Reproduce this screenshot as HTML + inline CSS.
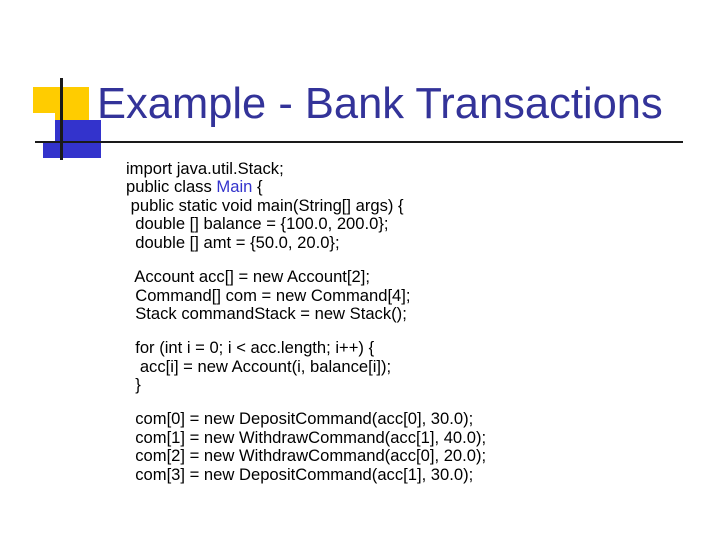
<!DOCTYPE html>
<html><head><style>
body{margin:0;width:720px;height:540px;background:#fff;position:relative;overflow:hidden;font-family:"Liberation Sans",sans-serif}
.a{position:absolute}
.l{position:absolute;left:126px;font-size:16.6px;line-height:18px;white-space:pre;color:#000}
</style></head><body>
<div class="a" style="left:33px;top:87px;width:56px;height:26px;background:#ffcc00"></div>
<div class="a" style="left:55px;top:113px;width:34px;height:7px;background:#ffcc00"></div>
<div class="a" style="left:55px;top:120px;width:46px;height:38px;background:#3333cc"></div>
<div class="a" style="left:43px;top:143px;width:12px;height:15px;background:#3333cc"></div>
<div class="a" style="left:60px;top:78px;width:3px;height:82px;background:#1a1a1a"></div>
<div class="a" style="left:35px;top:141px;width:648px;height:2px;background:#1a1a1a"></div>
<div class="a" style="left:97px;top:78px;font-size:43.5px;line-height:52px;color:#333399;white-space:nowrap">Example - Bank Transactions</div>
<div class="l" style="top:160px">import java.util.Stack;</div>
<div class="l" style="top:178px">public class <span style="color:#3333cc">Main</span> {</div>
<div class="l" style="top:197px"> public static void main(String[] args) {</div>
<div class="l" style="top:215px">  double [] balance = {100.0, 200.0};</div>
<div class="l" style="top:234px">  double [] amt = {50.0, 20.0};</div>
<div class="l" style="top:268px">  Account acc[] = new Account[2];</div>
<div class="l" style="top:287px">  Command[] com = new Command[4];</div>
<div class="l" style="top:305px">  Stack commandStack = new Stack();</div>
<div class="l" style="top:339px">  for (int i = 0; i &lt; acc.length; i++) {</div>
<div class="l" style="top:358px">   acc[i] = new Account(i, balance[i]);</div>
<div class="l" style="top:376px">  }</div>
<div class="l" style="top:410px">  com[0] = new DepositCommand(acc[0], 30.0);</div>
<div class="l" style="top:429px">  com[1] = new WithdrawCommand(acc[1], 40.0);</div>
<div class="l" style="top:447px">  com[2] = new WithdrawCommand(acc[0], 20.0);</div>
<div class="l" style="top:466px">  com[3] = new DepositCommand(acc[1], 30.0);</div>
</body></html>
